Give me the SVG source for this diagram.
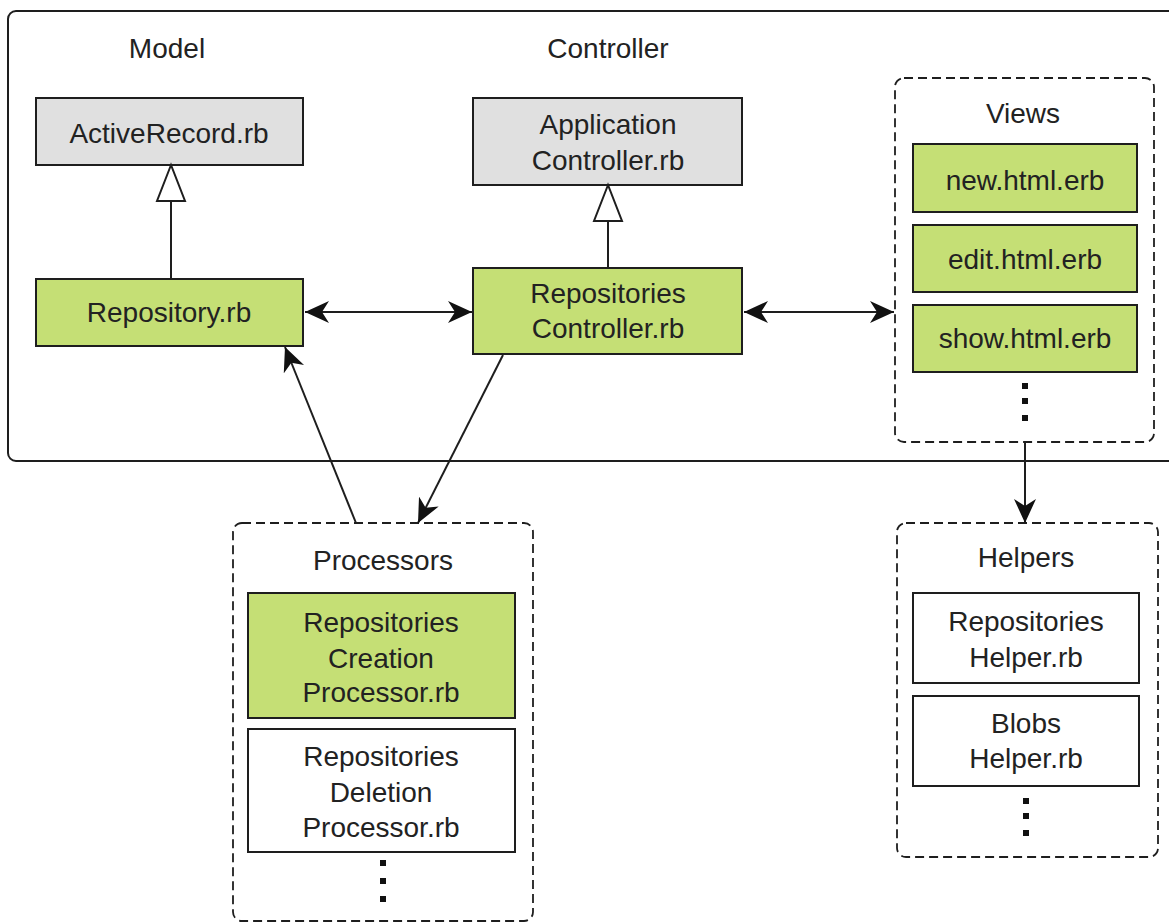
<svg xmlns="http://www.w3.org/2000/svg" width="1169" height="924" viewBox="0 0 1169 924">
<defs>
<style>
text{font-family:"Liberation Sans",Arial,sans-serif;font-size:28px;fill:#222222;text-anchor:middle}
.box{stroke:#1e1e1e;stroke-width:2}
.green{fill:#c5df75}
.gray{fill:#e0e0e0}
.white{fill:#ffffff}
.dash{fill:#ffffff;stroke:#1e1e1e;stroke-width:1.8;stroke-dasharray:9 5}
.edge{fill:none;stroke:#1e1e1e;stroke-width:2}
.dot{fill:#111}
</style>
<marker id="arr" viewBox="0 0 24 22" refX="24" refY="11" markerWidth="24" markerHeight="22" markerUnits="userSpaceOnUse" orient="auto-start-reverse">
<path d="M0,0 L24,11 L0,22 L7,11 z" fill="#111"/>
</marker>
</defs>
<rect width="1169" height="924" fill="#ffffff"/>
<g id="mvc-container">
<rect x="8" y="11" width="1180" height="450" rx="8" fill="#ffffff" stroke="#1e1e1e" stroke-width="2"/>
<text x="167" y="58">Model</text>
<text x="608" y="58">Controller</text>
</g>
<g id="activerecord">
<rect class="box gray" x="36" y="98" width="267" height="67"/>
<text x="169" y="143">ActiveRecord.rb</text>
</g>
<g id="repository">
<rect class="box green" x="36" y="279" width="267" height="67"/>
<text x="169" y="322">Repository.rb</text>
</g>
<g id="appcontroller">
<rect class="box gray" x="473" y="98" width="269" height="87"/>
<text x="608" y="134">Application</text>
<text x="608" y="170">Controller.rb</text>
</g>
<g id="repocontroller">
<rect class="box green" x="473" y="268" width="269" height="86"/>
<text x="608" y="303">Repositories</text>
<text x="608" y="338">Controller.rb</text>
</g>
<g id="views">
<rect class="dash" x="895" y="78" width="259" height="364" rx="9"/>
<text x="1023" y="123">Views</text>
<rect class="box green" x="913" y="144" width="224" height="68"/>
<text x="1025" y="190">new.html.erb</text>
<rect class="box green" x="913" y="225" width="224" height="67"/>
<text x="1025" y="269">edit.html.erb</text>
<rect class="box green" x="913" y="305" width="224" height="67"/>
<text x="1025" y="348">show.html.erb</text>
<rect class="dot" x="1022" y="383" width="6" height="6"/>
<rect class="dot" x="1022" y="398" width="6" height="6"/>
<rect class="dot" x="1022" y="415" width="6" height="6"/>
</g>
<g id="helpers">
<rect class="dash" x="897" y="523" width="261" height="334" rx="9"/>
<text x="1026" y="567">Helpers</text>
<rect class="box white" x="913" y="593" width="226" height="90"/>
<text x="1026" y="631">Repositories</text>
<text x="1026" y="667">Helper.rb</text>
<rect class="box white" x="913" y="696" width="226" height="90"/>
<text x="1026" y="733">Blobs</text>
<text x="1026" y="768">Helper.rb</text>
<rect class="dot" x="1023" y="798" width="6" height="6"/>
<rect class="dot" x="1023" y="813" width="6" height="6"/>
<rect class="dot" x="1023" y="830" width="6" height="6"/>
</g>
<g id="processors">
<rect class="dash" x="233" y="523" width="300" height="398" rx="9"/>
<text x="383" y="570">Processors</text>
<rect class="box green" x="248" y="593" width="267" height="125"/>
<text x="381" y="632">Repositories</text>
<text x="381" y="668">Creation</text>
<text x="381" y="702">Processor.rb</text>
<rect class="box white" x="248" y="729" width="267" height="123"/>
<text x="381" y="766">Repositories</text>
<text x="381" y="802">Deletion</text>
<text x="381" y="837">Processor.rb</text>
<rect class="dot" x="380" y="860" width="6" height="6"/>
<rect class="dot" x="380" y="878" width="6" height="6"/>
<rect class="dot" x="380" y="896" width="6" height="6"/>
</g>
<g id="connectors">
<line class="edge" x1="171" y1="201" x2="171" y2="279"/>
<polygon points="171,165 157,201 185,201" fill="#ffffff" stroke="#1e1e1e" stroke-width="2"/>
<line class="edge" x1="608" y1="221" x2="608" y2="268"/>
<polygon points="608,185 594,221 622,221" fill="#ffffff" stroke="#1e1e1e" stroke-width="2"/>
<line class="edge" x1="305" y1="312" x2="472" y2="312" marker-start="url(#arr)" marker-end="url(#arr)"/>
<line class="edge" x1="744" y1="312" x2="894" y2="312" marker-start="url(#arr)" marker-end="url(#arr)"/>
<line class="edge" x1="1025" y1="442" x2="1025" y2="523" marker-end="url(#arr)"/>
<line class="edge" x1="356" y1="523" x2="285" y2="347" marker-end="url(#arr)"/>
<line class="edge" x1="503" y1="355" x2="418" y2="523" marker-end="url(#arr)"/>
</g>
</svg>
